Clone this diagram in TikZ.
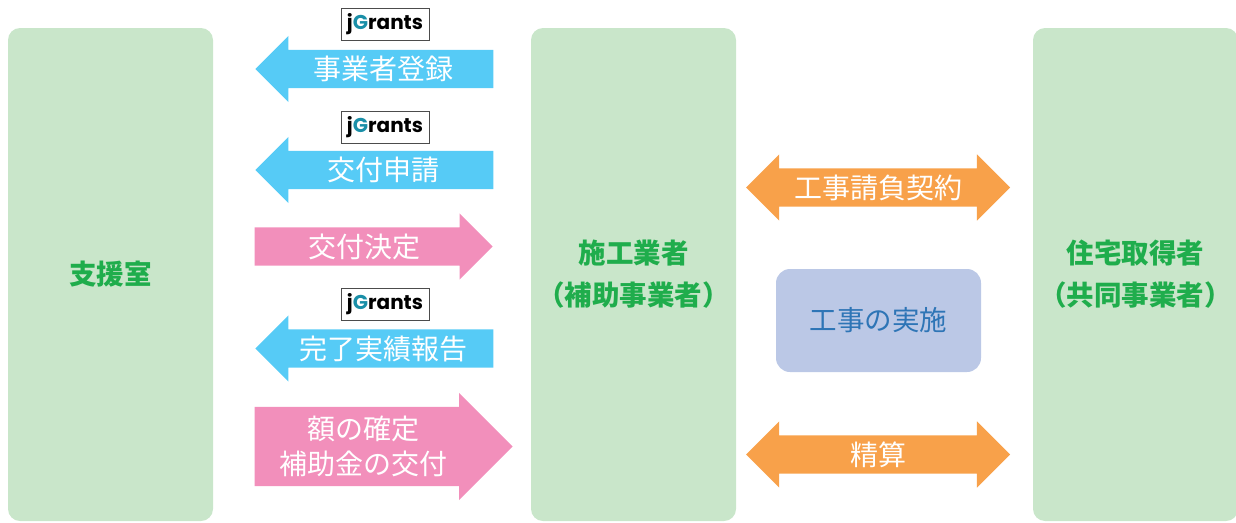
\documentclass[tikz,border=0pt]{standalone}
\usepackage{fontspec}
\setmainfont{Noto Sans CJK JP}
\newfontfamily\logofont{Poppins}
\usetikzlibrary{shapes.arrows}

\definecolor{boxgreen}{HTML}{C9E6CA}
\definecolor{titlegreen}{HTML}{1FAD4C}
\definecolor{flowblue}{HTML}{56CBF6}
\definecolor{flowpink}{HTML}{F28FBB}
\definecolor{floworange}{HTML}{F8A14A}
\definecolor{workfill}{HTML}{BBC8E6}
\definecolor{worktext}{HTML}{2E75B6}
\definecolor{gteal}{HTML}{1A8FA8}

\begin{document}
\begin{tikzpicture}[x=1pt,y=-1pt,
    party/.style={fill=boxgreen, rounded corners=12pt, minimum width=205pt,
        minimum height=493pt, inner sep=0pt, text=titlegreen, align=center,
        font=\bfseries\fontsize{27.5}{42}\selectfont},
    flowtext/.style={text=white, font=\fontsize{28}{35}\selectfont,
        text height=24pt, text depth=3pt, inner ysep=5.5pt, inner xsep=0pt},
    leftflow/.style={single arrow, shape border rotate=180, fill=flowblue,
        single arrow head extend=14pt, single arrow tip angle=90,
        minimum height=238pt, anchor=tip, flowtext},
    rightflow/.style={single arrow, fill=flowpink,
        single arrow head extend=14pt, single arrow tip angle=90,
        minimum height=238pt, anchor=tip, flowtext},
    bothflow/.style={double arrow, fill=floworange,
        double arrow head extend=14pt, double arrow tip angle=90,
        minimum height=264pt, flowtext},
    logo/.style={draw=black!70, line width=0.8pt, fill=white, inner sep=0pt,
        minimum width=88pt, minimum height=32pt,
        font=\logofont\bfseries\fontsize{20}{20}\selectfont}]
    \useasboundingbox (0,0) rectangle (1236,522);

    % Parties
    \node[party] (support) at (110.5,274.5) {支援室};
    \node[party] (builder) at (633.5,274.5) {施工業者\\（補助事業者）};
    \node[party] (owner) at (1135.5,274.5) {住宅取得者\\（共同事業者）};

    % jGrants
    \node[logo] (jg1) at (385,24) {j{\color{gteal}G}rants};
    \node[logo] (jg2) at (385,127.5) {j{\color{gteal}G}rants};
    \node[logo] (jg3) at (385,304) {j{\color{gteal}G}rants};

    % Flows between support office and builder
    \node[leftflow] (register) at (255,69) {事業者登録};
    \node[leftflow] (apply) at (255,170) {交付申請};
    \node[rightflow] (decide) at (493,246.5) {交付決定};
    \node[leftflow] (report) at (255,348.5) {完了実績報告};
    \node[rightflow, minimum height=258pt, text height=, text depth=,
        inner ysep=9pt, align=center] (grant) at (513,446.5) {額の確定\\補助金の交付};

    % Flows between builder and owner
    \node[bothflow] (contract) at (878,187.5) {工事請負契約};
    \node[fill=workfill, rounded corners=14pt, minimum width=205pt,
        minimum height=103pt, text=worktext,
        font=\fontsize{27.5}{34}\selectfont] (work) at (878.5,320.5) {工事の実施};
    \node[bothflow] (settle) at (878,454.5) {精算};
\end{tikzpicture}
\end{document}
